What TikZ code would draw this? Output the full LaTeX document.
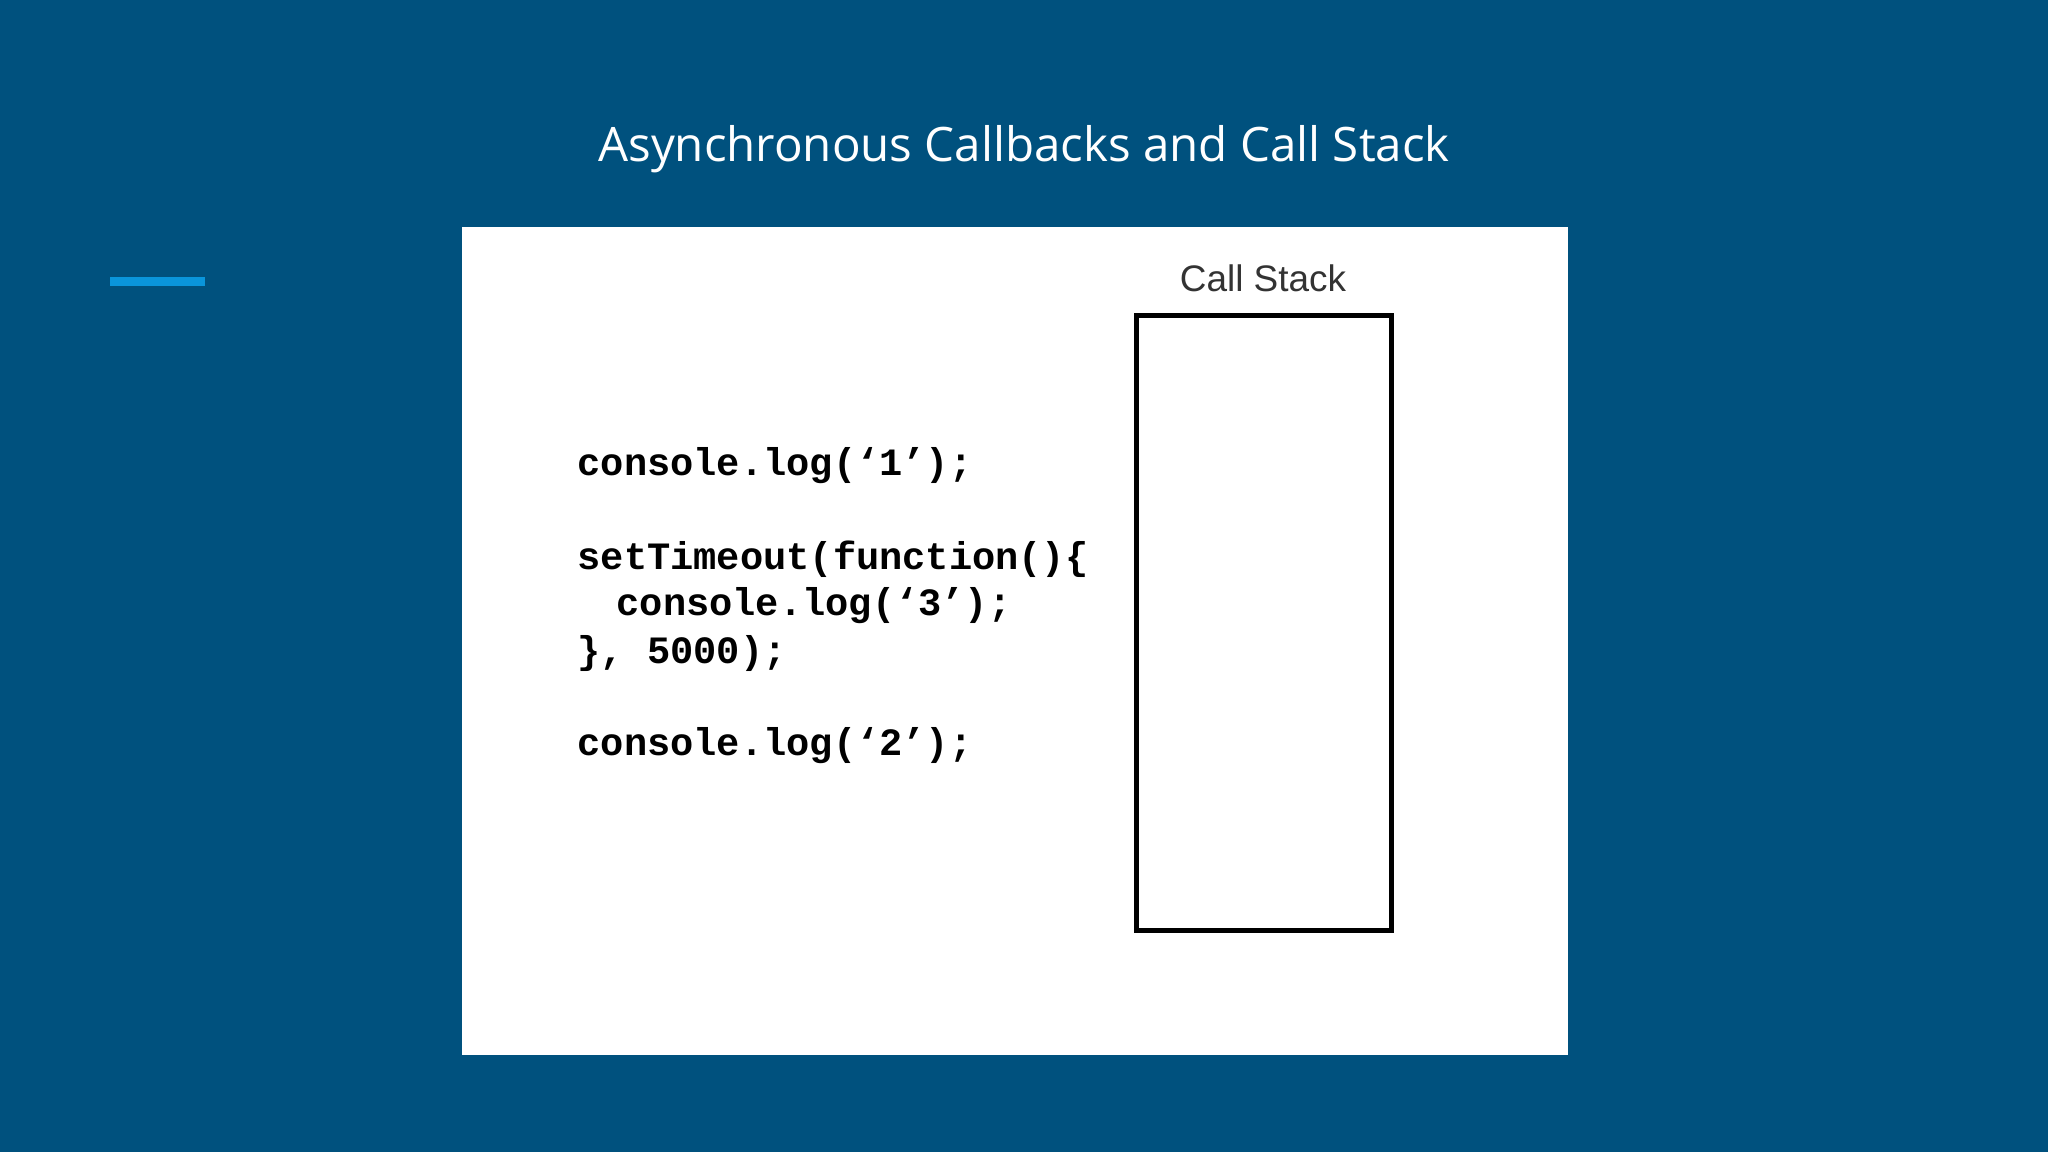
\documentclass[tikz,border=0pt]{standalone}
\usepackage{fontspec}
\setmainfont{Open Sans}
\newfontfamily\codefont{Liberation Mono}
\newfontfamily\labfont{Liberation Sans}
\definecolor{bg}{HTML}{00517E}
\definecolor{accent}{HTML}{0A95DB}
\tikzset{codeline/.style={anchor=west,inner sep=0pt,font=\codefont\bfseries\fontsize{11}{13}\selectfont}}
\begin{document}
\begin{tikzpicture}[x=0.01cm,y=-0.01cm]
\fill[bg] (0,0) rectangle (2048,1152);
\useasboundingbox (0,0) rectangle (2048,1152);
\node[text=white,font=\fontsize{13.5}{16}\selectfont] (title) at (1024,149) {Asynchronous Callbacks and Call Stack};
\fill[accent] (110,277) rectangle (205,286);
\fill[white] (462,227) rectangle (1568,1055);
\node[font=\labfont\fontsize{10.5}{13}\selectfont,text=black!80] (lab) at (1263,278) {Call Stack};
\draw[line width=0.05cm] (1136,316) rectangle (1391,930);
\node[codeline] (c1) at (577,466) {console.log(‘1’);};
\node[codeline] (c2) at (577,559) {setTimeout(function()\{};
\node[codeline] (c3) at (616,606) {console.log(‘3’);};
\node[codeline] (c4) at (577,653) {\}, 5000);};
\node[codeline] (c5) at (577,746) {console.log(‘2’);};
\end{tikzpicture}
\end{document}
